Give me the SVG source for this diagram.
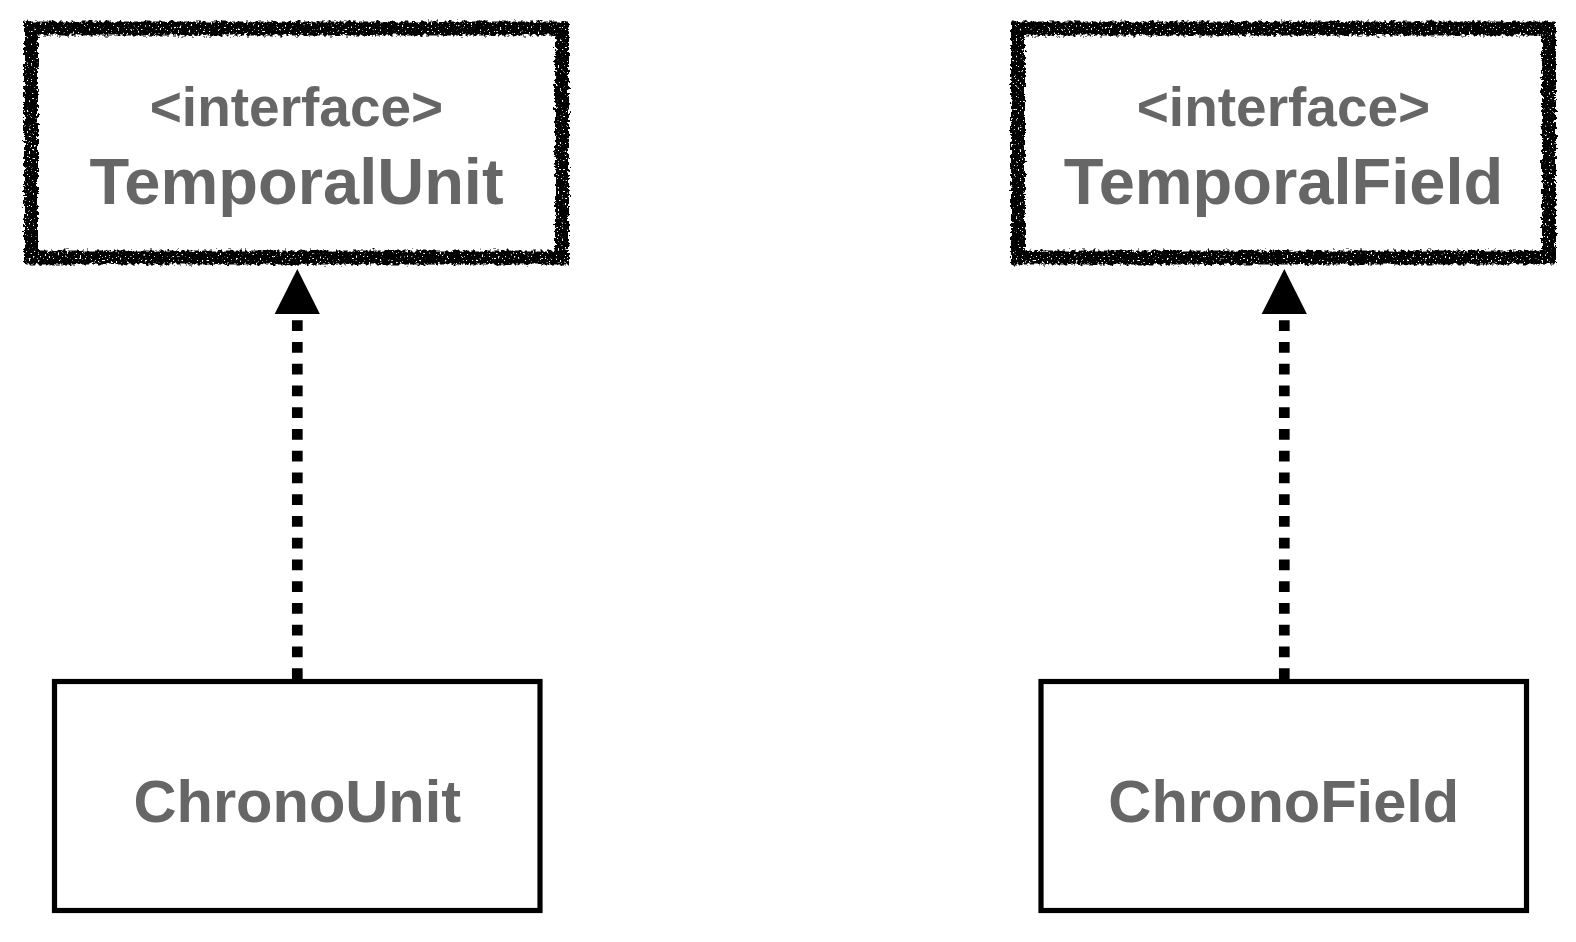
<svg xmlns="http://www.w3.org/2000/svg" width="1576" height="942" viewBox="0 0 1576 942">
  <style>
    .lbl { font-family: "Liberation Sans", Arial, Helvetica, sans-serif; font-weight: bold; fill: #666666; text-anchor: middle; }
    .stereo { font-size: 55px; }
    .title { font-size: 65px; }
    .cls { font-size: 59.6px; }
    .iface { fill: none; stroke: #000000; stroke-width: 14; filter: url(#rough); }
    .box { fill: #ffffff; stroke: #000000; stroke-width: 5.2; }
    .conn { fill: none; stroke: #000000; stroke-width: 10.7; stroke-dasharray: 10.7 11.05; marker-end: url(#tri); }
  </style>
  <defs>
    <filter id="rough" x="-5%" y="-10%" width="110%" height="120%">
      <feTurbulence type="fractalNoise" baseFrequency="0.3" numOctaves="2" seed="3" result="n"/>
      <feDisplacementMap in="SourceGraphic" in2="n" scale="7" xChannelSelector="R" yChannelSelector="G" result="d"/>
      <feTurbulence type="fractalNoise" baseFrequency="0.55" numOctaves="1" seed="7" result="n2"/>
      <feColorMatrix in="n2" type="matrix" values="0 0 0 0 0  0 0 0 0 0  0 0 0 0 0  -15 0 0 0 10.6" result="holes"/>
      <feComposite in="d" in2="holes" operator="in"/>
    </filter>
    <marker id="tri" markerUnits="userSpaceOnUse" orient="auto" refX="0" refY="0" markerWidth="60" markerHeight="60" overflow="visible">
      <path d="M6,-22.6 L51,0 L6,22.6 Z" fill="#000000" stroke="none"/>
    </marker>
  </defs>
  <rect x="0" y="0" width="1576" height="942" fill="#ffffff"/>

  <g id="connectors">
    <path class="conn" d="M297.3 679 V320"/>
    <path class="conn" d="M1284.3 679 V320"/>
  </g>

  <g id="TemporalUnit">
    <rect class="iface" x="31" y="28.5" width="531" height="229"/>
    <text class="lbl stereo" x="296.5" y="126">&lt;interface&gt;</text>
    <text class="lbl title" x="296.5" y="204">TemporalUnit</text>
  </g>

  <g id="TemporalField">
    <rect class="iface" x="1018" y="28.5" width="531" height="229"/>
    <text class="lbl stereo" x="1283.5" y="126">&lt;interface&gt;</text>
    <text class="lbl title" x="1283.5" y="204">TemporalField</text>
  </g>

  <g id="ChronoUnit">
    <rect class="box" x="54.5" y="681.5" width="485.5" height="229"/>
    <text class="lbl cls" x="297.3" y="821.5">ChronoUnit</text>
  </g>

  <g id="ChronoField">
    <rect class="box" x="1041" y="681.5" width="485.5" height="229"/>
    <text class="lbl cls" x="1283.8" y="821.5">ChronoField</text>
  </g>
</svg>
